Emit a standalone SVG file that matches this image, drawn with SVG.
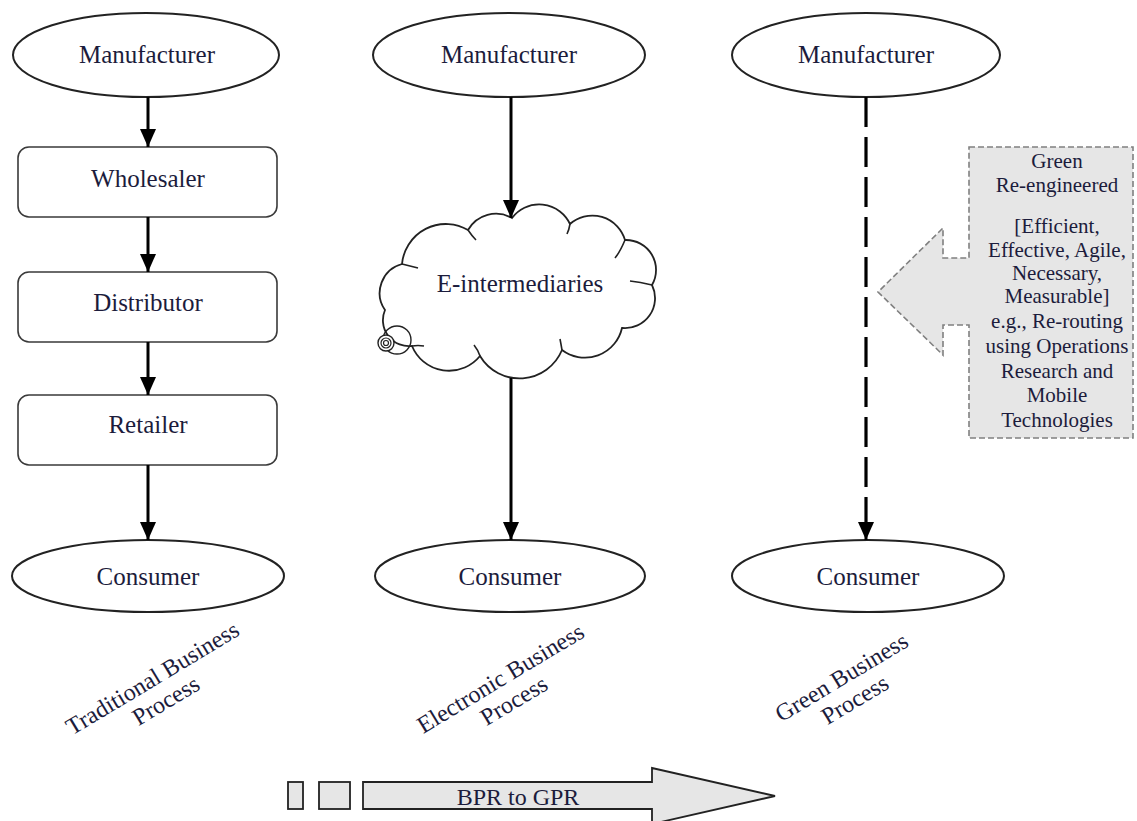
<svg xmlns="http://www.w3.org/2000/svg" width="1137" height="821" viewBox="0 0 1137 821">
  <style>
    .bg { fill: #ffffff; }
    .oval { fill: #ffffff; stroke: #222222; stroke-width: 2; }
    .box { fill: #ffffff; stroke: #3a3a3a; stroke-width: 1.6; }
    .cloud { fill: #ffffff; stroke: #222222; stroke-width: 1.8; }
    .lbl { font-family: "Liberation Serif", "Times New Roman", serif; font-size: 25px; fill: #1c1c3c; text-anchor: middle; }
    .note { font-family: "Liberation Serif", "Times New Roman", serif; font-size: 21px; fill: #1c1c3c; text-anchor: middle; }
    .axis { font-family: "Liberation Serif", "Times New Roman", serif; font-size: 24px; fill: #1c1c3c; text-anchor: middle; }
    .flow { fill: none; stroke: #000000; stroke-width: 3; }
    .flow-dash { fill: none; stroke: #000000; stroke-width: 3.2; stroke-dasharray: 30 10; }
    .callout { fill: #e6e6e6; stroke: #808080; stroke-width: 1.6; stroke-dasharray: 6 3; }
    .bar { fill: #e6e6e6; stroke: #222222; stroke-width: 1.8; }
  </style>
  <defs>
    <marker id="head" viewBox="0 0 18 16" refX="18" refY="8" markerWidth="18" markerHeight="16" markerUnits="userSpaceOnUse" orient="auto">
      <path d="M0,0 L18,8 L0,16 Z" fill="#000000"/>
    </marker>
  </defs>

  <rect class="bg" x="0" y="0" width="1137" height="821"/>

  <!-- Traditional column -->
  <g id="manufacturer-traditional">
    <ellipse class="oval" cx="146" cy="55" rx="133" ry="42"/>
    <text class="lbl" x="147" y="63">Manufacturer</text>
  </g>
  <g id="wholesaler">
    <rect class="box" x="18" y="147" width="259" height="70" rx="11"/>
    <text class="lbl" x="148" y="187">Wholesaler</text>
  </g>
  <g id="distributor">
    <rect class="box" x="18" y="272" width="259" height="70" rx="11"/>
    <text class="lbl" x="148" y="311">Distributor</text>
  </g>
  <g id="retailer">
    <rect class="box" x="18" y="395" width="259" height="70" rx="11"/>
    <text class="lbl" x="148" y="433">Retailer</text>
  </g>
  <g id="consumer-traditional">
    <ellipse class="oval" cx="148" cy="576" rx="136" ry="36"/>
    <text class="lbl" x="148" y="585">Consumer</text>
  </g>

  <!-- Electronic column -->
  <g id="manufacturer-electronic">
    <ellipse class="oval" cx="509" cy="55" rx="136" ry="42"/>
    <text class="lbl" x="509" y="63">Manufacturer</text>
  </g>
  <g id="e-intermediaries">
    <path class="cloud" d="M385,310 A30,30 0 0 1 402,264 A44,44 0 0 1 468,230 A32,32 0 0 1 512,218 A34,34 0 0 1 570,224 A34,34 0 0 1 625,240 A30,30 0 0 1 652,285 A30,30 0 0 1 622,328 A38,38 0 0 1 562,350 A46,46 0 0 1 480,356 A40,40 0 0 1 412,346 A26,26 0 0 1 385,310 Z"/>
    <!-- inner tails of the cloud lobes -->
    <path fill="none" stroke="#222" stroke-width="1.6" d="M402,264 Q410,266 418,268 M468,230 Q472,236 476,240 M570,224 Q569,230 567,234 M625,240 Q620,252 615,258 M652,285 Q640,282 630,281 M562,350 Q561,344 560,339 M480,356 Q478,350 474,345 M412,346 Q418,345 424,346"/>
    <circle cx="397" cy="340" r="14" fill="none" stroke="#222" stroke-width="1.4"/>
    <circle cx="386" cy="343" r="8" fill="#ffffff" stroke="#222" stroke-width="1.4"/>
    <circle cx="386" cy="343" r="5" fill="none" stroke="#222" stroke-width="1.2"/>
    <circle cx="386" cy="343" r="2.5" fill="none" stroke="#222" stroke-width="1.2"/>
    <text class="lbl" x="520" y="292">E-intermediaries</text>
  </g>
  <g id="consumer-electronic">
    <ellipse class="oval" cx="510" cy="576" rx="135" ry="36"/>
    <text class="lbl" x="510" y="585">Consumer</text>
  </g>

  <!-- Green column -->
  <g id="manufacturer-green">
    <ellipse class="oval" cx="866" cy="55" rx="134" ry="42"/>
    <text class="lbl" x="866" y="63">Manufacturer</text>
  </g>
  <g id="consumer-green">
    <ellipse class="oval" cx="868" cy="576" rx="136" ry="36"/>
    <text class="lbl" x="868" y="585">Consumer</text>
  </g>

  <g id="green-callout">
    <path class="callout" d="M969,147 L1133,147 L1133,438 L969,438 L969,325 L943,325 L943,355 L878,292 L943,228 L943,258 L969,258 Z"/>
    <text class="note" x="1057" y="168">Green</text>
    <text class="note" x="1057" y="192">Re-engineered</text>
    <text class="note" x="1057" y="233">[Efficient,</text>
    <text class="note" x="1057" y="257">Effective, Agile,</text>
    <text class="note" x="1057" y="280">Necessary,</text>
    <text class="note" x="1057" y="303">Measurable]</text>
    <text class="note" x="1057" y="328">e.g., Re-routing</text>
    <text class="note" x="1057" y="353">using Operations</text>
    <text class="note" x="1057" y="378">Research and</text>
    <text class="note" x="1057" y="402">Mobile</text>
    <text class="note" x="1057" y="427">Technologies</text>
  </g>

  <!-- Connectors -->
  <g id="connectors">
    <path class="flow" d="M148,97 L148,147" marker-end="url(#head)"/>
    <path class="flow" d="M148,217 L148,272" marker-end="url(#head)"/>
    <path class="flow" d="M148,342 L148,395" marker-end="url(#head)"/>
    <path class="flow" d="M148,465 L148,540" marker-end="url(#head)"/>
    <path class="flow" d="M511,97 L511,218" marker-end="url(#head)"/>
    <path class="flow" d="M511,378 L511,540" marker-end="url(#head)"/>
    <path class="flow-dash" d="M866,97 L866,524"/>
    <path class="flow" d="M866,524 L866,540" marker-end="url(#head)"/>
  </g>

  <!-- Column captions -->
  <g id="caption-traditional" transform="translate(153,679) rotate(-31)">
    <text class="axis" x="0" y="7">Traditional Business</text>
    <text class="axis" x="0" y="33">Process</text>
  </g>
  <g id="caption-electronic" transform="translate(501,679) rotate(-31)">
    <text class="axis" x="0" y="7">Electronic Business</text>
    <text class="axis" x="0" y="33">Process</text>
  </g>
  <g id="caption-green" transform="translate(842,678) rotate(-31)">
    <text class="axis" x="0" y="7">Green Business</text>
    <text class="axis" x="0" y="33">Process</text>
  </g>

  <!-- BPR to GPR progression arrow -->
  <g id="bpr-to-gpr">
    <rect class="bar" x="288" y="782" width="15" height="27"/>
    <rect class="bar" x="319" y="782" width="31" height="27"/>
    <path class="bar" d="M363,782 L652,782 L652,768 L775,796 L652,824 L652,809 L363,809 Z"/>
    <text class="axis" x="518" y="805" fill="#3a3f6a">BPR  to GPR</text>
  </g>
</svg>
